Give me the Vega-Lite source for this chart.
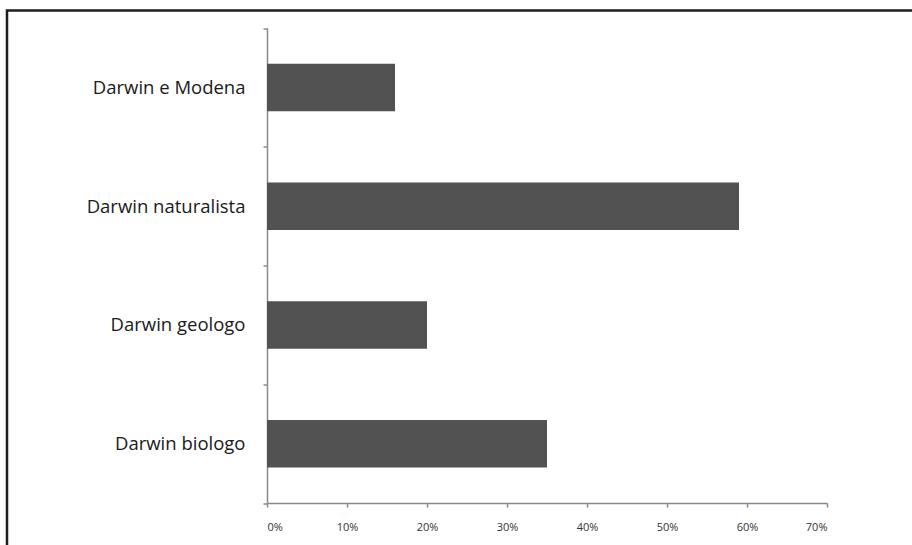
{
  "$schema": "https://vega.github.io/schema/vega-lite/v6.json",
  "autosize": "none",
  "padding": {"left": 7, "top": 10.5, "right": -20, "bottom": -20.5},
  "width": 925,
  "height": 555,
  "background": "white",
  "config": {
    "view": {"stroke": "#1e1e1e", "strokeWidth": 2.5}
  },
  "data": {
    "values": [
      {"categoria": "Darwin e Modena", "valore": 0.16},
      {"categoria": "Darwin naturalista", "valore": 0.59},
      {"categoria": "Darwin geologo", "valore": 0.20},
      {"categoria": "Darwin biologo", "valore": 0.35}
    ]
  },
  "mark": {"type": "bar", "color": "#525252", "height": {"band": 0.4}},
  "encoding": {
    "y": {
      "field": "categoria",
      "type": "nominal",
      "sort": null,
      "scale": {"range": [17.5, 492.5], "paddingInner": 0, "paddingOuter": 0},
      "axis": {
        "title": null,
        "offset": -260,
        "tickBand": "extent",
        "domainColor": "#8a8a8a",
        "domainWidth": 1.5,
        "tickColor": "#8a8a8a",
        "tickWidth": 1.5,
        "tickSize": 4,
        "labelFont": "Open Sans",
        "labelFontSize": 18.5,
        "labelColor": "#1a1a1a",
        "labelPadding": 18,
        "labelLimit": 300
      }
    },
    "x": {
      "field": "valore",
      "type": "quantitative",
      "scale": {"domain": [0, 0.7], "range": [260, 820], "nice": false, "zero": true},
      "axis": {
        "title": null,
        "offset": -62.5,
        "values": [0, 0.1, 0.2, 0.3, 0.4, 0.5, 0.6, 0.7],
        "format": ".0%",
        "grid": false,
        "domainColor": "#8a8a8a",
        "domainWidth": 1.5,
        "tickColor": "#8a8a8a",
        "tickWidth": 1.5,
        "tickSize": 4,
        "labelFont": "Open Sans",
        "labelFontSize": 11,
        "labelColor": "#333333",
        "labelPadding": 14.5
      }
    }
  }
}
